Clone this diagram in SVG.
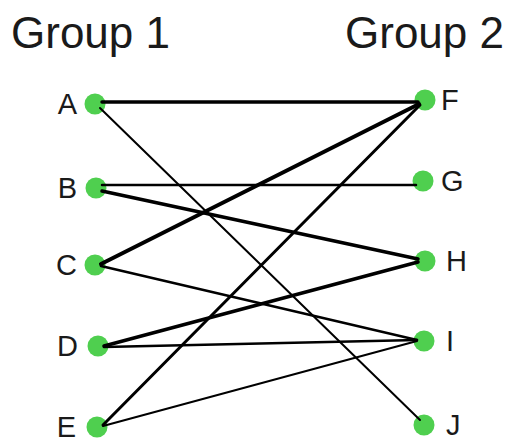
<svg xmlns="http://www.w3.org/2000/svg" width="509" height="444" viewBox="0 0 509 444">
<style>
.title{font-family:"Liberation Sans",Arial,sans-serif;font-size:44px;fill:#1a1a1a}
.lbl{font-family:"Liberation Sans",Arial,sans-serif;font-size:29px;fill:#1a1a1a}
.dot{fill:#4fcf4f}
.e{stroke:#000;stroke-linecap:round;fill:none}
</style>
<rect width="509" height="444" fill="#fff"/>
<text class="title" x="11" y="48">Group 1</text>
<text class="title" x="345" y="48">Group 2</text>
<g id="A"><circle class="dot" cx="95" cy="104" r="10.5"/><text class="lbl" x="77" y="114" text-anchor="end">A</text></g>
<g id="B"><circle class="dot" cx="96" cy="188" r="10.5"/><text class="lbl" x="77" y="198" text-anchor="end">B</text></g>
<g id="C"><circle class="dot" cx="95" cy="265" r="10.5"/><text class="lbl" x="77" y="275" text-anchor="end">C</text></g>
<g id="D"><circle class="dot" cx="98" cy="346" r="10.5"/><text class="lbl" x="78" y="356" text-anchor="end">D</text></g>
<g id="E"><circle class="dot" cx="97" cy="427" r="10.5"/><text class="lbl" x="76" y="437" text-anchor="end">E</text></g>
<g id="F"><circle class="dot" cx="425" cy="100" r="10.5"/><text class="lbl" x="441" y="110">F</text></g>
<g id="G"><circle class="dot" cx="423" cy="181" r="10.5"/><text class="lbl" x="441" y="191">G</text></g>
<g id="H"><circle class="dot" cx="425" cy="261" r="10.5"/><text class="lbl" x="446" y="271">H</text></g>
<g id="I"><circle class="dot" cx="424" cy="341" r="10.5"/><text class="lbl" x="446" y="351">I</text></g>
<g id="J"><circle class="dot" cx="424" cy="425" r="10.5"/><text class="lbl" x="446" y="435">J</text></g>
<g id="connectors">
<line class="e" x1="102" y1="102" x2="418" y2="102" stroke-width="3.5"/>
<line class="e" x1="100" y1="108" x2="420" y2="420" stroke-width="2"/>
<line class="e" x1="102" y1="185" x2="416" y2="185" stroke-width="2.5"/>
<line class="e" x1="102" y1="191" x2="418" y2="259" stroke-width="3.5"/>
<line class="e" x1="101" y1="264" x2="419" y2="104" stroke-width="4"/>
<line class="e" x1="101" y1="266" x2="417" y2="340" stroke-width="2.5"/>
<line class="e" x1="104" y1="346" x2="418" y2="262" stroke-width="3.5"/>
<line class="e" x1="104" y1="347" x2="417" y2="340" stroke-width="2.5"/>
<line class="e" x1="103" y1="425" x2="420" y2="105" stroke-width="3"/>
<line class="e" x1="103" y1="426" x2="417" y2="341" stroke-width="2"/>
</g>
</svg>
